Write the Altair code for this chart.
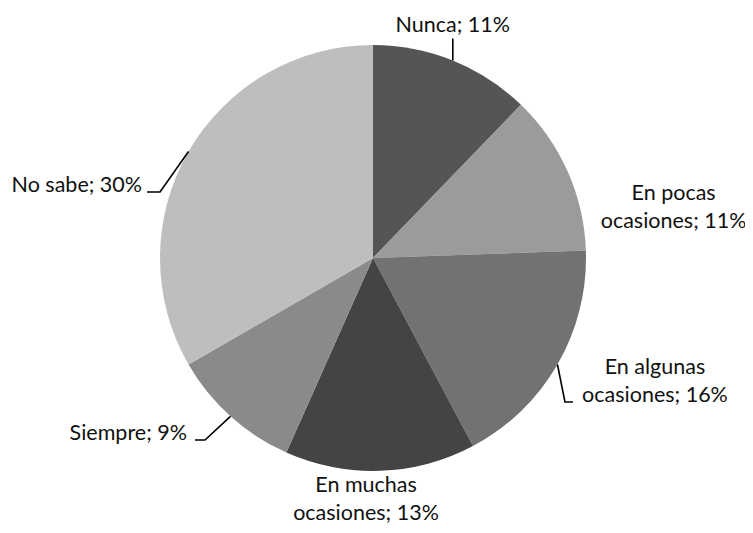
import math
import altair as alt
import pandas as pd

# ---- data ----
categorias = ["Nunca", "En pocas ocasiones", "En algunas ocasiones",
              "En muchas ocasiones", "Siempre", "No sabe"]
porcentajes = [11, 11, 16, 13, 9, 30]
etiquetas = ["Nunca; 11%", "En pocas\nocasiones; 11%", "En algunas\nocasiones; 16%",
             "En muchas\nocasiones; 13%", "Siempre; 9%", "No sabe; 30%"]
colores = ["#555555", "#9b9b9b", "#727272", "#444444", "#8a8a8a", "#bebebe"]

# ---- layout (pixels) ----
R = 213
CX, CY = 365, 250
label_offset = [(0, -28.5), (106, 29), (97.5, 9.5), (-14.4, 21.5), (-43.5, 23.7), (-46.5, 40.5)]
label_align = ["center", "center", "center", "center", "right", "right"]
leader_pts = {0: [(0, -22)],
              2: [(7.5, 37.5), (15.5, 37.5)],
              4: [(-25.5, 23.7), (-35.5, 23.7)],
              5: [(-28.5, 40.5), (-41.5, 40.5)]}

total = sum(porcentajes)
mid = []
acc = 0
for v in porcentajes:
    mid.append((acc + v / 2) / total * 2 * math.pi)
    acc += v

pie_df = pd.DataFrame({"cat": categorias, "valor": porcentajes, "idx": range(len(categorias))})

txt_rows = []
line_rows = []
for i, a in enumerate(mid):
    ex, ey = math.sin(a), -math.cos(a)
    dx, dy = label_offset[i]
    txt_rows.append({"x": ex + dx / R, "y": ey + dy / R, "t": etiquetas[i], "al": label_align[i]})
    if i in leader_pts:
        line_rows.append({"x": ex, "y": ey, "g": i, "o": 0})
        for k, (px, py) in enumerate(leader_pts[i]):
            line_rows.append({"x": ex + px / R, "y": ey + py / R, "g": i, "o": k + 1})
txt_df = pd.DataFrame(txt_rows)
line_df = pd.DataFrame(line_rows)

xs = alt.Scale(domain=[-1, 1], range=[CX - R, CX + R], nice=False, zero=False)
ys = alt.Scale(domain=[-1, 1], range=[CY - R, CY + R], nice=False, zero=False)

pie = alt.Chart(pie_df).mark_arc(outerRadius=R).encode(
    theta=alt.Theta("valor:Q", stack=True),
    order=alt.Order("idx:Q"),
    color=alt.Color("cat:N", scale=alt.Scale(domain=categorias, range=colores), legend=None),
    x=alt.value(CX), y=alt.value(CY),
)

leaders = alt.Chart(line_df).mark_line(color="#000000", strokeWidth=1.6).encode(
    x=alt.X("x:Q", scale=xs, axis=None),
    y=alt.Y("y:Q", scale=ys, axis=None),
    detail="g:N",
    order="o:Q",
)

def text_layer(al):
    return alt.Chart(txt_df).transform_filter(alt.datum.al == al).mark_text(
        align=al, baseline="alphabetic", font="Lato", fontSize=21.5,
        lineBreak="\n", lineHeight=28, color="#111111",
    ).encode(
        x=alt.X("x:Q", scale=xs, axis=None),
        y=alt.Y("y:Q", scale=ys, axis=None),
        text="t:N",
    )

chart = alt.layer(pie, leaders, text_layer("center"), text_layer("right")).properties(
    width=737, height=517, autosize=alt.AutoSizeParams(type="none"), padding=0,
).configure_view(stroke=None)

chart.save("out.html", embed_options={"renderer": "svg", "actions": False})
